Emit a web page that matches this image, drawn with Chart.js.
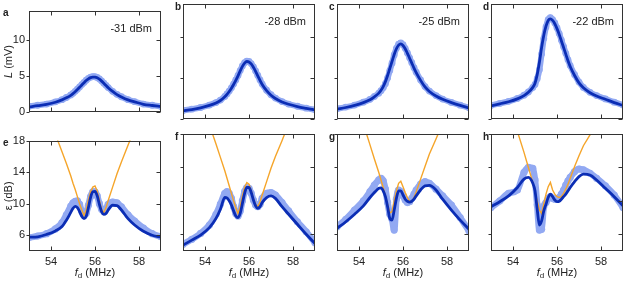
<!DOCTYPE html>
<html>
<head>
<meta charset="utf-8">
<script src="https://cdn.jsdelivr.net/npm/chart.js@4.4.1/dist/chart.umd.min.js"></script>
<style>
  html, body { margin: 0; padding: 0; background: #fff; }
  #wrap { position: relative; width: 625px; height: 283px; overflow: hidden; }
  #wrap canvas { position: absolute; }
</style>
</head>
<body>
<div id="wrap"></div>
<script>
// =====================================================
// DATA
// =====================================================

// drive frequency f_d (MHz), shared by every series
const fd = [53.0, 53.4, 53.8, 54.2, 54.5, 54.7, 54.9, 55.0, 55.1, 55.2, 55.3, 55.4,
  55.5, 55.6, 55.7, 55.8, 55.9, 56.0, 56.1, 56.2, 56.3, 56.4, 56.5, 56.6,
  56.8, 57.0, 57.2, 57.5, 57.8, 58.2, 58.6, 59.0];

// top row: L (mV), measured points + fit
const aData = [0.85, 0.98, 1.15, 1.45, 1.75, 2.05, 2.4, 2.62, 2.9, 3.2, 3.5, 3.82, 4.12, 4.42, 4.68, 4.85, 4.92, 4.9, 4.8, 4.6, 4.33, 4.02, 3.72, 3.42, 2.9, 2.48, 2.15, 1.75, 1.48, 1.15, 0.98, 0.82];
const aFit = [0.75, 0.92, 1.12, 1.4, 1.72, 2.0, 2.35, 2.58, 2.85, 3.15, 3.45, 3.78, 4.08, 4.38, 4.62, 4.78, 4.86, 4.85, 4.75, 4.56, 4.3, 4.0, 3.7, 3.4, 2.88, 2.45, 2.12, 1.72, 1.45, 1.12, 0.95, 0.8];
const bData = [1.05, 1.2, 1.4, 1.7, 2.0, 2.3, 2.75, 3.05, 3.4, 3.8, 4.25, 4.75, 5.3, 5.9, 6.45, 6.85, 7.05, 7.0, 6.75, 6.35, 5.85, 5.3, 4.75, 4.25, 3.5, 2.95, 2.55, 2.12, 1.82, 1.55, 1.32, 1.12];
const bFit = [1.0, 1.15, 1.35, 1.65, 1.95, 2.25, 2.7, 3.0, 3.35, 3.75, 4.2, 4.7, 5.25, 5.85, 6.4, 6.8, 7.0, 6.95, 6.7, 6.3, 5.8, 5.25, 4.7, 4.2, 3.45, 2.9, 2.5, 2.08, 1.8, 1.52, 1.3, 1.1];
const cData = [1.25, 1.45, 1.7, 2.05, 2.4, 2.75, 3.15, 3.45, 3.8, 4.3, 5.0, 5.9, 6.8, 7.8, 8.6, 9.1, 9.25, 9.05, 8.6, 8.05, 7.45, 6.85, 6.25, 5.7, 4.75, 3.95, 3.4, 2.85, 2.42, 2.02, 1.68, 1.38];
const cFit = [1.2, 1.4, 1.65, 2.0, 2.35, 2.7, 3.15, 3.5, 3.95, 4.55, 5.3, 6.15, 7.0, 7.85, 8.55, 9.0, 9.15, 8.95, 8.55, 8.0, 7.4, 6.8, 6.2, 5.65, 4.7, 3.9, 3.35, 2.8, 2.4, 2.0, 1.65, 1.35];
const dData = [1.65, 1.9, 2.15, 2.5, 2.9, 3.3, 3.85, 4.2, 4.9, 6.0, 7.9, 9.8, 11.2, 12.1, 12.35, 12.1, 11.7, 11.1, 10.4, 9.6, 8.8, 8.0, 7.2, 6.5, 5.4, 4.5, 3.85, 3.25, 2.85, 2.45, 2.05, 1.7];
const dFit = [1.6, 1.85, 2.1, 2.45, 2.85, 3.25, 3.85, 4.35, 5.4, 6.9, 8.7, 10.2, 11.3, 12.0, 12.2, 12.0, 11.6, 11.0, 10.3, 9.5, 8.7, 7.9, 7.1, 6.4, 5.3, 4.4, 3.8, 3.2, 2.8, 2.4, 2.0, 1.65];

// bottom row: epsilon (dB), measured points + fit + theory
const eData = [5.7, 5.9, 6.2, 6.8, 7.6, 8.6, 9.7, 10.1, 10.3, 10.35, 9.9, 9.0, 8.5, 8.8, 9.8, 10.9, 11.5, 11.5, 11.0, 10.0, 9.3, 9.0, 9.3, 9.9, 10.2, 10.1, 9.6, 8.6, 7.8, 6.9, 6.2, 5.8];
const eFit = [5.75, 5.8, 6.1, 6.55, 7.1, 7.9, 8.9, 9.4, 9.65, 9.5, 9.0, 8.4, 8.1, 8.4, 9.5, 10.8, 11.5, 11.55, 11.0, 9.9, 9.0, 8.65, 8.75, 9.2, 9.8, 9.75, 9.2, 8.1, 7.3, 6.5, 6.0, 5.75];
const eTheory = [30, 26, 22, 18.8, 16.6, 15.1, 13.5, 12.6, 11.8, 10.9, 10.0, 9.2, 8.5, 9.2, 10.5, 11.5, 12.1, 12.25, 11.6, 10.4, 9.3, 8.85, 9.5, 10.4, 12.1, 13.8, 15.3, 17.4, 19.5, 22.5, 26, 30];
const fData = [4.8, 5.4, 6.1, 7.1, 8.4, 9.6, 10.9, 11.1, 10.9, 10.3, 9.3, 8.5, 8.2, 8.8, 10.0, 11.1, 11.6, 11.5, 10.9, 10.1, 9.5, 9.3, 9.6, 10.3, 10.9, 11.0, 10.7, 9.8, 8.8, 7.5, 6.3, 5.0];
const fFit = [4.7, 5.3, 5.9, 6.8, 7.9, 9.0, 10.4, 10.35, 10.0, 9.5, 8.8, 8.2, 8.0, 8.5, 9.7, 10.9, 11.6, 11.6, 11.0, 10.1, 9.4, 9.1, 9.3, 9.8, 10.4, 10.6, 10.3, 9.3, 8.4, 7.2, 6.0, 4.9];
const fTheory = [30, 26, 22, 19.1, 16.8, 15.2, 13.6, 12.7, 11.8, 10.9, 10.0, 9.2, 8.45, 9.3, 10.6, 11.6, 12.2, 12.0, 11.2, 10.3, 9.6, 9.3, 9.9, 10.7, 12.3, 13.9, 15.3, 17.2, 19.2, 22, 25.5, 29];
const gData = [6.9, 7.8, 8.9, 10.0, 11.1, 11.9, 12.5, 12.7, 12.4, 11.4, 9.8, 8.4, 7.8, 6.5, 10.2, 11.3, 11.1, 10.6, 10.1, 9.8, 9.9, 10.3, 10.8, 11.3, 12.0, 12.3, 12.1, 11.4, 10.6, 9.5, 8.0, 6.4];
const gFit = [6.7, 7.5, 8.4, 9.4, 10.4, 11.0, 11.5, 11.55, 11.2, 10.5, 9.3, 7.9, 7.7, 8.9, 10.3, 11.2, 11.2, 10.7, 10.2, 9.95, 9.85, 9.95, 10.2, 10.6, 11.3, 11.8, 11.85, 11.3, 10.2, 8.9, 7.7, 6.6];
const gTheory = [30, 26, 22, 19.2, 16.7, 15.0, 13.4, 12.5, 11.6, 10.6, 9.6, 8.55, 8.7, 10.0, 11.2, 12.1, 12.35, 11.7, 11.0, 10.4, 9.95, 9.9, 10.4, 11.1, 12.6, 14.1, 15.6, 17.4, 19.3, 22, 25.5, 29];
const hData = [9.2, 10.0, 10.9, 11.3, 13.4, 14.0, 13.9, 12.5, 9.5, 6.5, 6.6, 9.3, 9.8, 10.3, 10.5, 10.3, 10.2, 10.2, 10.4, 10.8, 11.3, 11.9, 12.4, 12.8, 13.5, 13.8, 13.7, 13.3, 12.7, 11.8, 10.7, 9.2];
const hFit = [9.3, 9.9, 10.6, 11.6, 12.6, 12.8, 12.1, 11.2, 9.0, 7.1, 7.6, 8.8, 9.6, 10.4, 10.8, 10.5, 10.1, 9.9, 9.95, 10.2, 10.5, 10.8, 11.2, 11.6, 12.3, 12.9, 13.2, 13.1, 12.5, 11.5, 10.5, 9.4];
const hTheory = [30, 25.5, 21.5, 18.3, 15.8, 14.0, 12.2, 11.1, 10.0, 8.9, 8.5, 9.6, 10.8, 11.7, 12.2, 11.3, 10.8, 10.5, 10.4, 10.5, 10.9, 11.4, 12.0, 12.7, 14.1, 15.4, 16.6, 17.9, 19.6, 22, 25, 28];

// ticks and labels
const xTicks = [54, 56, 58];
const topYTicks = [0, 5, 10];
const botYTicks = [6, 10, 14, 18];
const powerLabels = ["-31 dBm", "-28 dBm", "-25 dBm", "-22 dBm"];
const panelLetters = ["a", "b", "c", "d", "e", "f", "g", "h"];

// =====================================================
// LAYOUT / STYLE
// =====================================================
const FONT = "'Liberation Sans', Arial, Helvetica, sans-serif";
const TEXT = "#222";
const FRAME = "#333";
const LIGHT = "#92a9f2";
const DARK = "#0b2db4";
const ORANGE = "#f5a52a";

const colLeft = [29, 183, 337, 491];
const rowTop = [3, 133];
const PLOT_W = 134;
const PLOT_H = 118;
const AXIS_W = 29;
const PAD_T = 3;
const PAD_R = 2;
const X_AXIS_H = 32;

const wrap = document.getElementById("wrap");

// mixed-font text (italic symbol, subscript) drawn centred on cx
function drawRuns(ctx, runs, cx, cy) {
  let total = 0;
  runs.forEach((r) => {
    ctx.font = r.font;
    r.w = ctx.measureText(r.text).width;
    total += r.w;
  });
  let x = cx - total / 2;
  runs.forEach((r) => {
    ctx.font = r.font;
    ctx.fillText(r.text, x, cy + (r.dy || 0));
    x += r.w;
  });
}

// frame, inward ticks, panel letter, labels
const framePlugin = {
  id: "frame",
  afterDraw(chart, args, opts) {
    const { ctx, chartArea: a, scales } = chart;
    const yTicks = opts.row === 0 ? topYTicks : botYTicks;
    const L = Math.round(a.left) + 0.5;
    const R = Math.round(a.right) - 0.5;
    const T = Math.round(a.top) + 0.5;
    const B = Math.round(a.bottom) - 0.5;

    ctx.save();
    ctx.strokeStyle = FRAME;
    ctx.lineWidth = 1;
    ctx.strokeRect(L, T, R - L, B - T);
    ctx.beginPath();
    xTicks.forEach((v) => {
      const x = Math.round(scales.x.getPixelForValue(v)) + 0.5;
      ctx.moveTo(x, B); ctx.lineTo(x, B - 4);
      ctx.moveTo(x, T); ctx.lineTo(x, T + 4);
    });
    yTicks.forEach((v) => {
      const y = Math.round(scales.y.getPixelForValue(v)) + 0.5;
      ctx.moveTo(L, y); ctx.lineTo(L - 3, y);
      ctx.moveTo(R, y); ctx.lineTo(R - 4, y);
    });
    ctx.stroke();

    ctx.fillStyle = TEXT;
    ctx.textBaseline = "middle";

    // panel letter
    ctx.textAlign = "left";
    ctx.font = `bold 10px ${FONT}`;
    ctx.fillText(opts.letter, a.left - (opts.col === 0 ? 26 : 8), a.top + 3);

    // power label
    if (opts.row === 0) {
      ctx.textAlign = "right";
      ctx.font = `11px ${FONT}`;
      ctx.fillText(powerLabels[opts.col], a.right - 9, a.top + 18);
    }

    ctx.textAlign = "left";
    // y axis title
    if (opts.col === 0) {
      ctx.save();
      ctx.translate(9, (a.top + a.bottom) / 2);
      ctx.rotate(-Math.PI / 2);
      if (opts.row === 0) {
        drawRuns(ctx, [
          { text: "L", font: `italic 11px ${FONT}` },
          { text: " (mV)", font: `11px ${FONT}` },
        ], 0, 0);
      } else {
        drawRuns(ctx, [
          { text: "\u03b5", font: `11px ${FONT}` },
          { text: " (dB)", font: `11px ${FONT}` },
        ], 0, 0);
      }
      ctx.restore();
    }

    // x axis title
    if (opts.row === 1) {
      drawRuns(ctx, [
        { text: "f", font: `italic 11px ${FONT}` },
        { text: "d", font: `8px ${FONT}`, dy: 3 },
        { text: " (MHz)", font: `11px ${FONT}` },
      ], (a.left + a.right) / 2, a.bottom + 22);
    }
    ctx.restore();
  },
};

function toXY(ys) {
  return fd.map((x, i) => ({ x, y: ys[i] }));
}

function makePanel(idx, data, fit, theory) {
  const col = idx % 4;
  const row = Math.floor(idx / 4);
  const w = AXIS_W + PLOT_W + PAD_R;
  const h = PAD_T + PLOT_H + (row === 1 ? X_AXIS_H : 2);

  const canvas = document.createElement("canvas");
  canvas.width = w;
  canvas.height = h;
  canvas.style.width = w + "px";
  canvas.style.height = h + "px";
  canvas.style.left = colLeft[col] - AXIS_W + "px";
  canvas.style.top = rowTop[row] - PAD_T + "px";
  wrap.appendChild(canvas);

  const datasets = [
    {
      label: "fit",
      data: toXY(fit),
      borderColor: DARK,
      borderWidth: 2.8,
      pointRadius: 0,
      cubicInterpolationMode: "monotone",
      clip: 0,
    },
  ];
  if (theory) {
    datasets.push({
      label: "theory",
      data: toXY(theory),
      borderColor: ORANGE,
      borderWidth: 1.4,
      pointRadius: 0,
      tension: 0,
      clip: 0,
    });
  }
  datasets.push({
    label: "data",
    data: toXY(data),
    borderColor: LIGHT,
    backgroundColor: LIGHT,
    borderWidth: row === 0 ? 6 : 6.5,
    pointRadius: row === 0 ? 3.4 : 3.6,
    pointBorderWidth: 0,
    pointBackgroundColor: LIGHT,
    cubicInterpolationMode: "monotone",
    clip: 0,
  });

  const yTicks = row === 0 ? topYTicks : botYTicks;

  new Chart(canvas, {
    type: "line",
    data: { datasets },
    plugins: [framePlugin],
    options: {
      responsive: false,
      animation: false,
      devicePixelRatio: 1,
      events: [],
      layout: { padding: { left: 0, right: PAD_R, top: PAD_T, bottom: row === 1 ? 0 : 2 } },
      plugins: {
        legend: { display: false },
        tooltip: { enabled: false },
        frame: { row, col, letter: panelLetters[idx] },
      },
      scales: {
        x: {
          type: "linear",
          min: 53,
          max: 59,
          afterBuildTicks: (s) => { s.ticks = xTicks.map((v) => ({ value: v })); },
          afterFit: (s) => { s.height = row === 1 ? X_AXIS_H : 0; },
          grid: { display: false, drawTicks: false },
          border: { display: false },
          ticks: {
            display: row === 1,
            autoSkip: false,
            maxRotation: 0,
            padding: 4,
            color: TEXT,
            font: { family: FONT, size: 11 },
            callback: (v) => String(v),
          },
        },
        y: {
          min: row === 0 ? 0 : 4,
          max: row === 0 ? 14 : 18,
          afterBuildTicks: (s) => { s.ticks = yTicks.map((v) => ({ value: v })); },
          afterFit: (s) => { s.width = AXIS_W; },
          grid: { display: false, drawTicks: false },
          border: { display: false },
          ticks: {
            display: col === 0,
            padding: 4,
            color: TEXT,
            font: { family: FONT, size: 11 },
            callback: (v) => String(v),
          },
        },
      },
    },
  });
}

makePanel(0, aData, aFit);
makePanel(1, bData, bFit);
makePanel(2, cData, cFit);
makePanel(3, dData, dFit);
makePanel(4, eData, eFit, eTheory);
makePanel(5, fData, fFit, fTheory);
makePanel(6, gData, gFit, gTheory);
makePanel(7, hData, hFit, hTheory);
</script>
</body>
</html>
